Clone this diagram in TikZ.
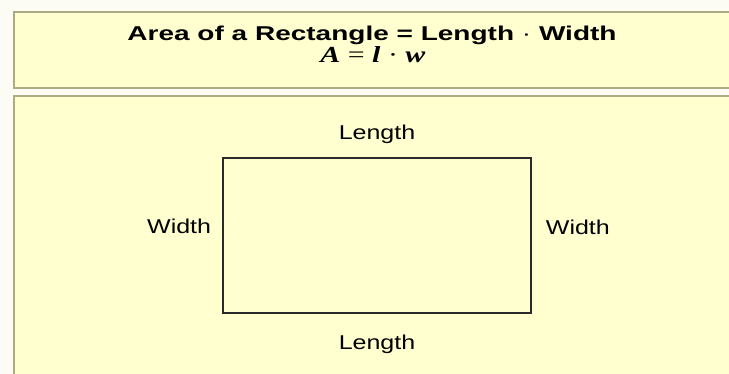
\documentclass[tikz,border=0pt]{standalone}
\usepackage{fontspec}
\usetikzlibrary{positioning}
\newfontfamily\titlefont{Liberation Sans}[FakeStretch=1.4]
\newfontfamily\labelfont{Liberation Sans}[FakeStretch=1.25]
\newfontfamily\formfont{Liberation Serif}[FakeStretch=1.3]
\definecolor{panelfill}{HTML}{FFFFD0}
\definecolor{panelrule}{HTML}{ACAC84}
\definecolor{pageback}{HTML}{FCFCF4}
\definecolor{lineink}{HTML}{2A2A2A}

\begin{document}
\begin{tikzpicture}[
        x=1pt,y=-1pt,
        panel/.style={draw=panelrule,line width=2pt,fill=panelfill},
        heading/.style={anchor=base,inner sep=0pt,text=black,
          font=\titlefont\fontsize{20}{24}\selectfont\bfseries},
        formula/.style={anchor=base,inner sep=0pt,text=black,
          font=\formfont\fontsize{23}{27}\selectfont},
        rectbox/.style={draw=lineink,line width=1.4pt,minimum width=308pt,
          minimum height=155pt,inner sep=0pt},
        side/.style={inner sep=0pt,text=black,
          font=\labelfont\fontsize{20}{24}\selectfont}
      ]
        \useasboundingbox[fill=pageback] (0,0) rectangle (729,374);

        % header and body panels
        \draw[panel] (14,12) rectangle (745,88);
        \draw[panel] (14,96) rectangle (745,390);

        \node[heading] (title) at (372,41) {Area of a Rectangle = Length {\mdseries·} Width};
        \node[formula] (rule) at (373,63) {\textbf{\textit{A}} = \textbf{\textit{l}} · \textbf{\textit{w}}};

        \node[rectbox] (area) at (377,235.5) {};

        \node[side,above=13pt of area] (top) {Length};
        \node[side,below=21pt of area] (bottom) {Length};
        \node[side,left=11pt of area,yshift=9pt] (left) {Width};
        \node[side,right=14pt of area,yshift=8pt] (right) {Width};
      \end{tikzpicture}
\end{document}
